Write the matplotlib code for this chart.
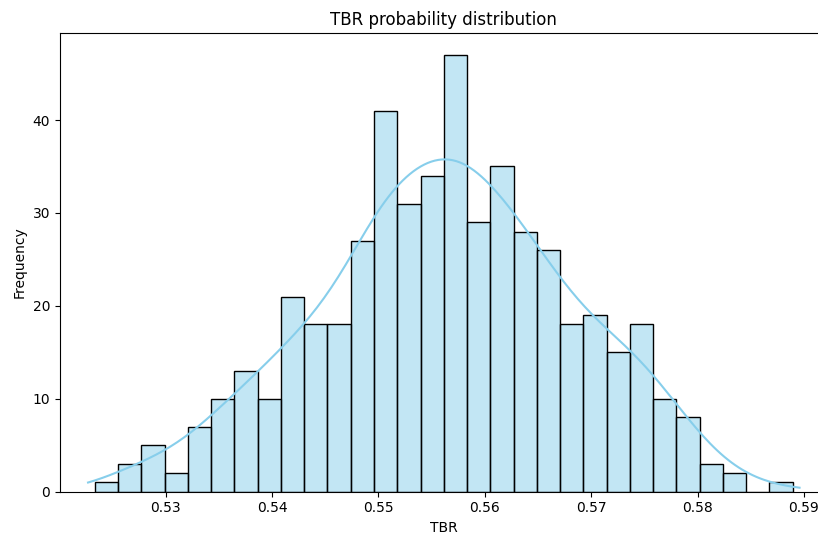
import numpy as np
import pandas as pd
import matplotlib
matplotlib.use("Agg")
import matplotlib.pyplot as plt
import seaborn as sns

# Histogram counts (30 bins)
counts = [1, 3, 5, 2, 7, 10, 13, 10, 21, 18, 18, 27, 41, 31, 34,
          47, 29, 35, 28, 26, 18, 19, 15, 18, 10, 8, 3, 2, 0, 1]
tbr_min = 0.52336
tbr_max = 0.58894
n_bins = 30

edges = np.linspace(tbr_min, tbr_max, n_bins + 1)
df = pd.DataFrame({'TBR': (edges[:-1] + edges[1:]) / 2, 'count': counts})

fig = plt.figure(figsize=(8.18, 5.35), dpi=100)
ax = fig.add_axes([60 / 818, 0.081, 767.6 / 818, 0.857])

# weighted centers -> effective n is small, so shrink the bandwidth
# cut stretches the curve out to the outer bin edges
sns.histplot(data=df, x='TBR', weights='count', bins=n_bins,
             binrange=(tbr_min, tbr_max), kde=True, color='skyblue',
             edgecolor='black', kde_kws={'bw_adjust': 0.54, 'cut': 0.33}, ax=ax)

# keep the usual 5% margin around the bins
pad = 0.05 * (tbr_max - tbr_min)
ax.set_xlim(tbr_min - pad, tbr_max + pad)

ax.set_title('TBR probability distribution')
ax.set_xlabel('TBR')
ax.set_ylabel('Frequency')
ax.set_xticks([0.53, 0.54, 0.55, 0.56, 0.57, 0.58, 0.59])

fig.savefig('out.png', dpi=100)
